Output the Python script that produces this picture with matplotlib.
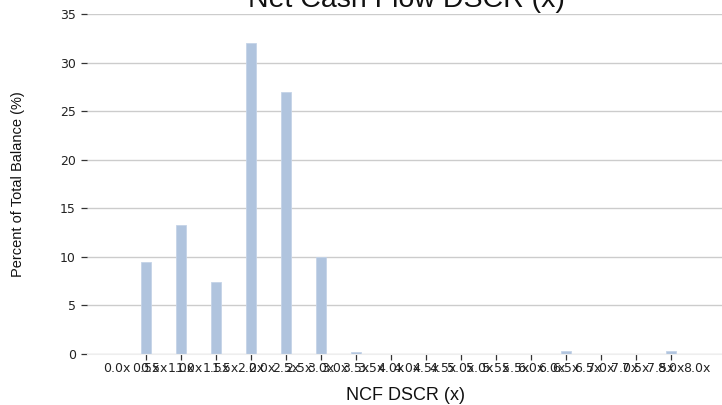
import matplotlib
matplotlib.use("Agg")
import matplotlib.pyplot as plt
import numpy as np

# bins of NCF DSCR, one bar per 0.5x step
bin_labels = ["0.5x", "1.0x", "1.5x", "2.0x", "2.5x", "3.0x", "3.5x", "4.0x",
              "4.5x", "5.0x", "5.5x", "6.0x", "6.5x", "7.0x", "7.5x", "8.0x"]
edge_labels = ["0.0x", "0.5x", "1.0x", "1.5x", "2.0x", "2.5x", "3.0x", "3.5x", "4.0x",
               "4.5x", "5.0x", "5.5x", "6.0x", "6.5x", "7.0x", "7.5x", "8.0x"]
pct_balance = [9.5, 13.3, 7.4, 32.0, 27.0, 10.0, 0.2, 0.0,
               0.0, 0.0, 0.0, 0.0, 0.35, 0.0, 0.0, 0.35]
y_ticks = [0, 5, 10, 15, 20, 25, 30, 35]

fig = plt.figure(figsize=(7.22, 4.05), dpi=100)
ax = fig.add_axes([87 / 722, 51 / 405, 635 / 722, 340 / 405])

x = np.arange(len(bin_labels))
ax.bar(x, pct_balance, width=0.3, color="#b0c4de", edgecolor="#c4d3e8", linewidth=0.6, zorder=2)

ax.set_xlim(-1.69, 16.46)
ax.set_ylim(0, 35)
ax.set_yticks(y_ticks)
ax.set_yticklabels([str(v) for v in y_ticks], fontsize=9, family="DejaVu Sans", color="#222222")

# major ticks sit under the bars, edge labels spread over the axis and overlap them
ax.set_xticks(x)
ax.set_xticklabels(bin_labels, fontsize=9, family="DejaVu Sans", color="#222222")
edge_pos = np.linspace(-0.83, 15.74, len(edge_labels))
ax.set_xticks(edge_pos, minor=True)
ax.set_xticklabels(edge_labels, minor=True, fontsize=9, family="DejaVu Sans", color="#222222")

ax.tick_params(axis="x", which="major", length=4, width=0.9, color="#333333", pad=1.5)
ax.tick_params(axis="x", which="minor", length=0, pad=5.5)
ax.tick_params(axis="y", length=4, width=0.9, color="#333333", pad=4)

ax.grid(axis="y", color="#cccccc", linewidth=1.0, zorder=0)
ax.set_axisbelow(True)
for side in ["top", "right", "left"]:
    ax.spines[side].set_visible(False)
ax.spines["bottom"].set_color("#eeeeee")

fig.text(406 / 722, 398 / 405, "Net Cash Flow DSCR (x)", ha="center", va="baseline",
         fontsize=20.5, family="Liberation Sans", color="#111111")
fig.text(18 / 722, 221 / 405, "Percent of Total Balance (%)", ha="center", va="center",
         rotation=90, fontsize=10.5, family="Liberation Sans", color="#111111")
fig.text(406 / 722, 5 / 405, "NCF DSCR (x)", ha="center", va="baseline",
         fontsize=13, family="Liberation Sans", color="#111111")

plt.savefig("out.png", dpi=100)
plt.close()
